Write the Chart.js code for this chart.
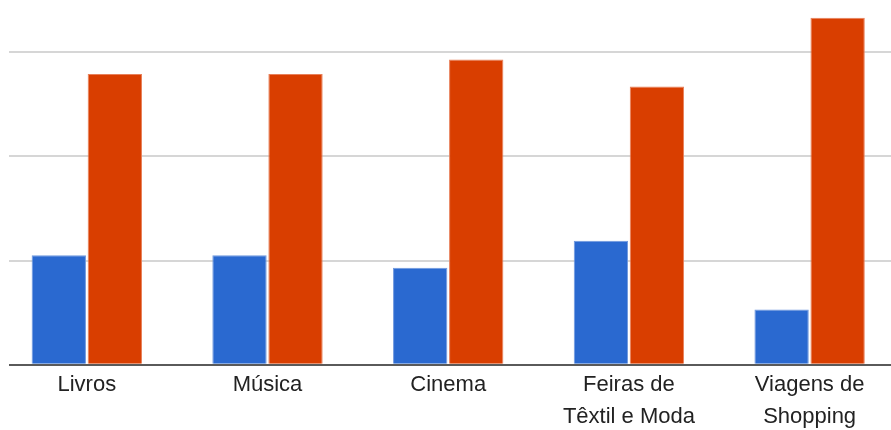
<!DOCTYPE html>
<html>
<head>
<meta charset="utf-8">
<script src="https://cdn.jsdelivr.net/npm/chart.js@4/dist/chart.umd.min.js"></script>
<style>
  html, body { margin: 0; padding: 0; background: #ffffff; }
  #wrap { width: 891px; height: 430px; }
</style>
</head>
<body>
<div id="wrap"><canvas id="c" width="891" height="430"></canvas></div>
<script>
const categories = [
  ["Livros"],
  ["Música"],
  ["Cinema"],
  ["Feiras de", "Têxtil e Moda"],
  ["Viagens de", "Shopping"]
];
const seriesBlue = [10.5, 10.5, 9.3, 11.9, 5.3];
const seriesOrange = [27.9, 27.9, 29.3, 26.7, 33.3];
const yGridValues = [0, 10, 20, 30];

const toPoints = arr => arr.map((v, i) => ({ x: i, y: v }));

new Chart(document.getElementById('c'), {
  type: 'bar',
  data: {
    datasets: [
      { label: 'A', data: toPoints(seriesBlue), backgroundColor: '#2a69d0', borderColor: '#6f98de', borderWidth: 1, borderSkipped: 'bottom',
        categoryPercentage: 0.62, barPercentage: 0.97 },
      { label: 'B', data: toPoints(seriesOrange), backgroundColor: '#d93e00', borderColor: '#e8805a', borderWidth: 1, borderSkipped: 'bottom',
        categoryPercentage: 0.62, barPercentage: 0.97 }
    ]
  },
  options: {
    responsive: false,
    animation: false,
    layout: { padding: { left: 9, right: 0, top: 0, bottom: 0 } },
    plugins: { legend: { display: false }, tooltip: { enabled: false } },
    scales: {
      x: {
        type: 'linear',
        offset: false,
        min: -0.4306,
        max: 4.4504,
        afterFit: s => { s.height = 65.3; },
        grid: { display: false, drawTicks: false, offset: false },
        border: { display: false },
        ticks: {
          stepSize: 1,
          includeBounds: false,
          autoSkip: false,
          maxRotation: 0,
          padding: 4,
          color: '#222222',
          font: { family: '"Liberation Sans", Arial, sans-serif', size: 22, lineHeight: 1.45 },
          callback: v => (Number.isInteger(v) && categories[v]) ? categories[v] : ''
        }
      },
      y: {
        min: 0,
        max: 35,
        afterFit: s => { s.width = 0; },
        border: { display: false },
        ticks: { display: false, stepSize: 10 },
        grid: {
          drawTicks: false,
          color: ctx => ctx.tick.value === 0 ? '#5a5a5a' : (yGridValues.includes(ctx.tick.value) ? '#d6d6d6' : 'rgba(0,0,0,0)'),
          lineWidth: ctx => 2
        }
      }
    }
  }
});
</script>
</body>
</html>
